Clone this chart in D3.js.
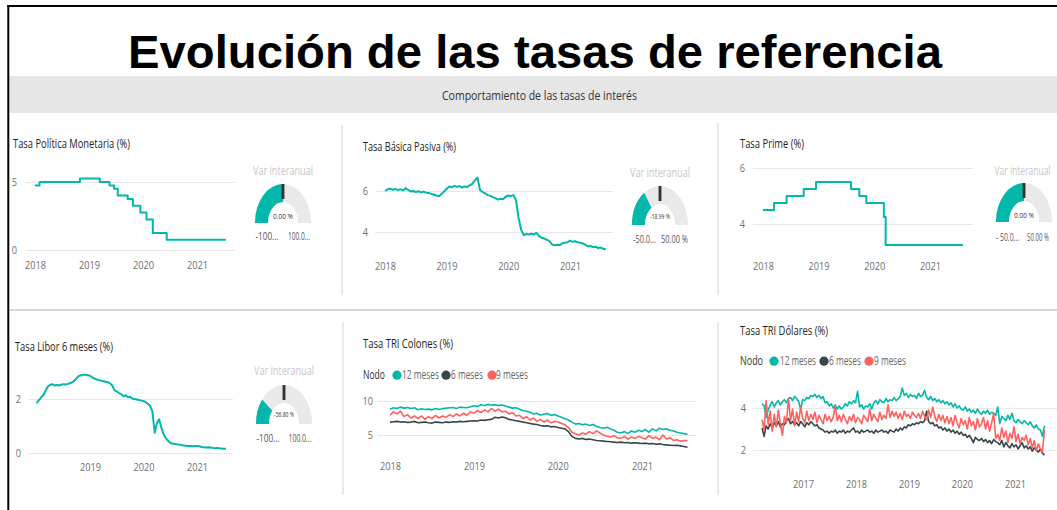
<!DOCTYPE html>
<html lang="es">
<head>
<meta charset="UTF-8">
<title>Evolución de las tasas de referencia</title>
<script src="https://d3js.org/d3.v7.min.js"></script>
<style>
  body { margin: 0; background: #fff; }
  svg { display: block; }
</style>
</head>
<body>
<svg id="chart" width="1057" height="510"></svg>
<script>
// ---- data ----
const parse = d3.timeParse("%Y-%m-%d");

// Tasa Politica Monetaria (step)
const tpmDates = ["2018-01-01","2018-02-01","2018-11-01","2019-03-15","2019-05-20","2019-06-20","2019-07-15",
  "2019-09-20","2019-10-25","2019-12-15","2020-01-25","2020-03-08","2020-06-10","2021-07-15"];
const tpmValues = [4.75, 5.0, 5.25, 5.0, 4.75, 4.5, 4.0, 3.75, 3.25, 2.75, 2.25, 1.25, 0.75, 0.75];

// Tasa Prime (step)
const primeDates = ["2018-01-01","2018-03-15","2018-06-05","2018-09-25","2018-12-15","2019-08-01","2019-09-25",
  "2019-11-10","2020-03-04","2020-03-16","2021-08-05"];
const primeValues = [4.5, 4.75, 5.0, 5.25, 5.5, 5.25, 5.0, 4.75, 4.25, 3.25, 3.25];

// Tasa Basica Pasiva, semi-monthly from 2018-01-01
const tbpStart = "2018-01-01";
const tbpValues = [
  6.00, 6.08, 6.12, 6.06, 6.10, 6.04, 6.09, 6.03, 6.14, 6.05, 5.98, 6.00, 5.95, 5.99, 5.93, 5.97, 5.92, 5.90, 5.86, 5.83, 5.78, 5.74, 5.85, 5.98,
  6.10, 6.22, 6.18, 6.25, 6.20, 6.24, 6.17, 6.22, 6.20, 6.28, 6.35, 6.52, 6.66, 6.05, 5.95, 5.88, 5.80, 5.76, 5.70, 5.65, 5.58, 5.62, 5.60, 5.72,
  5.78, 5.76, 5.80, 5.55, 4.70, 4.10, 3.85, 3.90, 3.88, 3.92, 3.88, 3.96, 3.80, 3.72, 3.68, 3.62, 3.55, 3.40, 3.35, 3.38, 3.36, 3.45, 3.48, 3.50,
  3.58, 3.52, 3.55, 3.50, 3.48, 3.44, 3.38, 3.30, 3.32, 3.26, 3.28, 3.22, 3.24, 3.18, 3.15];

// Tasa Libor 6 meses, semi-monthly from 2018-01-01
const liborStart = "2018-01-01";
const liborValues = [
  1.85, 1.95, 2.05, 2.15, 2.30, 2.45, 2.52, 2.55, 2.50, 2.52, 2.50, 2.53, 2.55, 2.54, 2.56, 2.58, 2.62, 2.68, 2.78, 2.85, 2.88, 2.90, 2.90, 2.88,
  2.86, 2.80, 2.76, 2.72, 2.70, 2.68, 2.66, 2.64, 2.62, 2.58, 2.50, 2.32, 2.28, 2.22, 2.18, 2.10, 2.14, 2.06, 2.08, 2.02, 2.00, 1.98, 1.96, 1.94,
  1.93, 1.88, 1.82, 1.74, 1.55, 0.75, 1.10, 1.25, 0.95, 0.70, 0.55, 0.45, 0.38, 0.35, 0.33, 0.32, 0.31, 0.30, 0.28, 0.27, 0.26, 0.26, 0.25, 0.26,
  0.26, 0.25, 0.22, 0.21, 0.20, 0.21, 0.20, 0.19, 0.18, 0.19, 0.18, 0.17, 0.16, 0.16];

// Tasa TRI Colones, semi-monthly from 2018-01-01
const triColStart = "2018-01-01";
const triCol12 = [
  8.8, 9.0, 8.9, 9.1, 8.95, 9.05, 8.9, 9.0, 8.7, 8.85, 8.75, 8.8, 8.7, 8.9, 8.75, 8.85, 8.95, 9.0, 9.05, 8.9, 9.1, 9.05, 9.0, 9.15,
  9.3, 9.2, 9.45, 9.35, 9.5, 9.4, 9.45, 9.35, 9.4, 9.25, 9.1, 8.95, 9.0, 8.8, 8.6, 8.5, 8.35, 8.1, 8.2, 7.95, 8.05, 8.15, 7.9, 8.0,
  7.8, 7.6, 7.4, 7.2, 6.9, 6.6, 6.7, 6.5, 6.6, 6.4, 6.55, 6.3, 6.1, 6.0, 6.15, 5.9, 5.7, 5.4, 5.3, 5.5, 5.2, 5.6, 5.4, 5.7,
  5.5, 5.8, 5.4, 5.9, 5.6, 6.0, 5.8, 5.9, 5.7, 5.6, 5.4, 5.3, 5.2, 5.1];
const triCol6 = [
  6.9, 6.95, 7.0, 6.9, 6.95, 6.85, 6.9, 7.0, 6.8, 6.85, 6.9, 6.8, 6.75, 6.9, 6.85, 6.8, 6.9, 6.85, 6.95, 6.9, 7.0, 6.95, 7.0, 7.05,
  7.1, 7.05, 7.2, 7.15, 7.25, 7.3, 7.6, 7.5, 7.65, 7.55, 7.3, 7.2, 7.1, 7.0, 6.9, 6.8, 6.7, 6.6, 6.55, 6.4, 6.3, 6.35, 6.2, 6.25,
  6.1, 6.0, 5.9, 5.5, 4.8, 4.5, 4.4, 4.5, 4.35, 4.4, 4.3, 4.2, 4.15, 4.1, 4.05, 4.0, 3.95, 3.9, 3.95, 3.85, 3.9, 3.8, 3.85, 3.8,
  3.75, 3.8, 3.7, 3.75, 3.65, 3.7, 3.6, 3.55, 3.5, 3.45, 3.5, 3.4, 3.3, 3.2];
const triCol9 = [
  7.9, 8.4, 8.1, 8.5, 7.7, 8.0, 7.5, 7.8, 7.4, 7.8, 7.3, 7.7, 7.4, 7.9, 7.5, 7.8, 7.6, 8.0, 7.7, 8.1, 7.8, 8.2, 7.9, 8.4,
  8.2, 8.6, 8.3, 8.7, 8.4, 8.9, 8.5, 8.8, 8.4, 8.5, 8.1, 8.3, 7.8, 7.9, 7.4, 7.7, 7.2, 7.5, 7.0, 7.3, 6.9, 7.2, 6.8, 7.0,
  6.9, 6.7, 6.5, 6.1, 5.4, 5.2, 5.0, 5.3, 5.1, 5.5, 5.2, 5.6, 5.3, 5.0, 4.8, 4.7, 4.9, 4.6, 4.5, 4.8, 4.4, 4.7, 4.5, 4.8,
  4.6, 4.4, 4.9, 4.5, 4.7, 4.3, 5.0, 4.4, 4.6, 4.2, 4.3, 4.1, 4.2, 4.15];

// Tasa TRI Dolares, every 14 days from 2016-03-25
const triUsdStart = "2016-03-25";
const triUsd12 = [
  4.20, 4.10, 3.55, 3.90, 4.15, 4.30, 4.05, 4.25, 4.35, 4.15, 4.30, 4.40, 4.25,
  4.45, 4.50, 4.35, 4.55, 4.45, 4.30, 3.95, 4.40, 4.35, 4.50, 4.45, 4.60, 4.55,
  4.65, 4.50, 4.60, 4.45, 4.55, 4.25, 4.30, 4.10, 4.20, 4.00, 4.15, 3.95, 4.10,
  3.95, 4.05, 4.20, 4.10, 4.30, 4.20, 4.35, 4.25, 4.80, 4.05, 4.15, 3.95, 4.10,
  4.05, 4.20, 3.95, 4.25, 4.35, 4.20, 4.40, 4.30, 4.25, 4.45, 4.30, 4.40, 4.35,
  4.50, 4.35, 4.45, 4.55, 4.95, 4.60, 4.70, 4.50, 4.65, 4.55, 4.60, 4.45, 4.70,
  4.55, 4.60, 4.85, 4.50, 4.40, 4.55, 4.35, 4.45, 4.30, 4.40, 4.25, 4.35, 4.20,
  4.30, 4.15, 4.25, 4.05, 4.20, 4.00, 4.10, 3.95, 3.90, 4.05, 3.85, 3.95, 3.80,
  3.90, 3.75, 3.95, 3.80, 3.70, 3.85, 3.75, 3.90, 3.70, 3.80, 3.75, 3.65, 4.05,
  3.25, 3.60, 3.50, 3.40, 3.65, 3.45, 3.75, 3.40, 3.30, 3.45, 3.35, 3.25, 3.40,
  3.30, 3.20, 3.35, 3.15, 3.05, 3.20, 3.00, 2.95, 2.65, 3.15];
const triUsd6 = [
  3.05, 2.65, 3.15, 3.00, 3.25, 3.05, 3.30, 3.15, 3.35, 3.10, 3.25, 3.20, 3.40,
  3.50, 3.25, 3.35, 3.20, 3.30, 3.15, 3.35, 3.25, 3.10, 3.30, 3.20, 3.35, 3.25,
  3.15, 3.20, 3.05, 3.00, 2.95, 2.85, 2.90, 2.80, 2.90, 2.85, 2.95, 2.80, 2.90,
  2.85, 2.95, 2.80, 2.90, 2.85, 2.95, 3.05, 2.85, 2.90, 2.80, 2.95, 2.85, 2.90,
  2.95, 2.85, 2.90, 2.80, 2.95, 2.85, 2.90, 2.95, 2.85, 2.90, 2.80, 2.95, 2.90,
  2.85, 3.00, 2.90, 3.05, 2.95, 3.10, 3.05, 3.20, 3.15, 3.25, 3.20, 3.30, 3.25,
  3.35, 3.30, 3.40, 3.85, 3.35, 3.25, 3.30, 3.15, 3.20, 3.05, 3.10, 2.95, 3.05,
  2.90, 3.00, 2.85, 2.95, 2.80, 2.90, 2.75, 2.85, 2.70, 2.75, 2.60, 2.70, 2.55,
  2.35, 2.60, 2.50, 2.45, 2.55, 2.40, 2.50, 2.35, 2.45, 2.30, 2.50, 2.40, 2.35,
  2.25, 2.45, 2.15, 2.35, 2.20, 2.10, 2.30, 2.15, 2.25, 2.05, 2.20, 2.35, 2.10,
  2.20, 2.05, 2.15, 1.95, 2.10, 2.00, 1.90, 2.05, 1.85, 1.75];
const triUsd9 = [
  3.45, 2.95, 4.35, 3.20, 3.85, 2.90, 3.70, 3.10, 3.90, 3.25, 2.70, 3.60, 3.30,
  4.45, 3.40, 3.95, 3.15, 3.80, 3.35, 4.05, 3.50, 3.30, 3.85, 3.40, 3.70, 3.45,
  3.80, 3.30, 3.65, 3.45, 3.25, 3.70, 3.40, 3.60, 3.35, 3.55, 4.10, 3.40, 3.65,
  3.35, 3.70, 3.45, 3.25, 3.60, 3.40, 3.70, 3.30, 3.55, 3.45, 3.25, 3.65, 3.50,
  3.35, 3.95, 3.40, 3.70, 3.50, 3.35, 3.80, 3.45, 3.65, 3.50, 4.15, 3.55, 3.85,
  3.60, 3.80, 3.50, 3.75, 3.45, 3.85, 3.60, 3.70, 3.50, 3.80, 3.65, 3.55, 3.75,
  3.50, 3.85, 3.60, 3.45, 3.90, 3.55, 4.05, 3.60, 3.35, 3.70, 3.40, 3.65, 3.30,
  3.60, 3.25, 3.55, 3.15, 3.65, 3.30, 3.05, 3.50, 3.20, 3.40, 3.00, 3.55, 3.15,
  3.35, 2.95, 3.50, 3.10, 3.25, 3.55, 3.00, 3.40, 2.90, 3.30, 3.75, 2.55, 2.75,
  2.45, 3.05, 2.60, 2.90, 2.35, 2.80, 2.55, 3.10, 2.40, 2.75, 2.30, 2.60, 2.45,
  2.70, 2.25, 2.55, 2.10, 2.45, 1.95, 2.30, 2.05, 1.90, 2.95];

const nodos = ["12 meses", "6 meses", "9 meses"];

// gauges (Var interanual)
const gaugeValues = [0, -18.99, 0, -56.8];
const gaugeMin = [-100, -50, -50, -100];
const gaugeMax = [100, 50, 50, 100];
const gaugeValueText = ["0.00 %", "-18.99 %", "0.00 %", "-56.80 %"];
const gaugeMinText = ["-100...", "-50.0...", "- 50.0...", "-100..."];
const gaugeMaxText = ["100.0...", "50.00 %", "50.00 %", "100.0..."];

// ---- drawing ----
const TEAL = "#01B8AA", DARK = "#374649", RED = "#FD625E";
const FONT = "'Open Sans', 'Noto Sans', sans-serif";
const svg = d3.select("#chart");

function txt(x, y, s, o) {
  const t = svg.append("text").attr("x", x).attr("y", y).text(s)
    .attr("font-family", o.family || FONT)
    .attr("font-size", o.size)
    .attr("font-weight", o.weight || 400)
    .attr("fill", o.color || "#252423")
    .attr("text-anchor", o.anchor || "start");
  if (o.len) t.attr("textLength", o.len).attr("lengthAdjust", "spacingAndGlyphs");
  return t;
}

function seq(start, values, stepDays) {
  const s = parse(start);
  return values.map((v, i) => ({ date: d3.timeDay.offset(s, Math.round(i * stepDays)), value: v }));
}
function pairs(dates, values) {
  return dates.map((d, i) => ({ date: parse(d), value: values[i] }));
}

// frame
svg.append("rect").attr("width", 1057).attr("height", 510).attr("fill", "#fff");
svg.append("rect").attr("x", 9.5).attr("y", 76).attr("width", 1048).attr("height", 37).attr("fill", "#e6e6e6");
svg.append("line").attr("x1", 8.3).attr("x2", 8.3).attr("y1", 5).attr("y2", 510).attr("stroke", "#000").attr("stroke-width", 2);
svg.append("line").attr("x1", 7.3).attr("x2", 1057).attr("y1", 6).attr("y2", 6).attr("stroke", "#000").attr("stroke-width", 2);

txt(535, 68, "Evolución de las tasas de referencia",
  { family: "'Liberation Sans', Arial, sans-serif", size: 47, weight: 700, color: "#000", anchor: "middle", len: 814 });
txt(539.5, 100, "Comportamiento de las tasas de interés", { size: 13, color: "#333", anchor: "middle", len: 195 });

// separators
svg.append("line").attr("x1", 10).attr("x2", 1057).attr("y1", 310).attr("y2", 310).attr("stroke", "#d6d6d6").attr("stroke-width", 2);
[[342, 125, 295], [718, 123, 295], [343, 322, 495], [718, 322, 495]].forEach(s => {
  svg.append("line").attr("x1", s[0]).attr("x2", s[0]).attr("y1", s[1]).attr("y2", s[2])
    .attr("stroke", "#e3e3e3").attr("stroke-width", 1.5);
});

function condense(sel, k) {
  sel.each(function () {
    const t = d3.select(this);
    const x = +t.attr("x") || 0;
    t.attr("x", 0).attr("transform", `translate(${x},0) scale(${k},1)`);
  });
}

function panel(p) {
  const x = d3.scaleTime().domain([new Date(p.xd[0], 0, 1), new Date(p.xd[1], 0, 1)]).range(p.xr);
  const y = d3.scaleLinear().domain(p.yd).range(p.yr);

  const ya = svg.append("g").attr("transform", `translate(${p.grid[1]},0)`)
    .call(d3.axisLeft(y).tickValues(p.yd).tickSize(p.grid[1] - p.grid[0]).tickPadding(p.yPad).tickFormat(d3.format("d")));
  ya.select(".domain").remove();
  ya.selectAll("line").attr("stroke", "#e8e8e8");
  ya.attr("font-family", FONT).attr("font-size", 11.5);
  ya.selectAll("text").attr("fill", "#6f6f6f");
  condense(ya.selectAll("text"), 0.8);

  const ticks = d3.range(p.xt[0], p.xt[1] + 1).map(yr => new Date(yr, 0, 1));
  const xa = svg.append("g").attr("transform", `translate(0,${p.xLabelY - 4.1})`)
    .call(d3.axisBottom(x).tickValues(ticks).tickSize(0).tickPadding(0).tickFormat(d3.timeFormat("%Y")));
  xa.select(".domain").remove();
  xa.attr("font-family", FONT).attr("font-size", 11.5);
  xa.selectAll("text").attr("fill", "#6f6f6f");
  condense(xa.selectAll("text"), 0.8);

  p.series.forEach(s => {
    svg.append("path").datum(s.data)
      .attr("fill", "none").attr("stroke", s.color).attr("stroke-width", p.width || 2)
      .attr("stroke-linejoin", "round")
      .attr("d", d3.line().x(d => x(d.date)).y(d => y(d.value)).curve(p.step ? d3.curveStepAfter : d3.curveLinear));
  });

  txt(p.title[1], p.title[2], p.title[0], { size: 12, color: "#252423", len: p.title[3] });

  if (p.legend) {
    const L = p.legend;
    txt(L.x, L.y, "Nodo", { size: 12, color: "#333", len: L.nodoLen });
    nodos.forEach((n, i) => {
      svg.append("circle").attr("cx", L.dots[i]).attr("cy", L.y - 3.8).attr("r", 4.6).attr("fill", [TEAL, DARK, RED][i]);
      txt(L.labels[i], L.y, n, { size: 12, color: "#666", len: L.lens[i] });
    });
  }
}

panel({ title: ["Tasa Política Monetaria (%)", 13, 148, 117], step: true,
  xd: [2018, 2021], xr: [35, 197], yd: [0, 5], yr: [250, 182], grid: [26, 235], yPad: 9, xt: [2018, 2021], xLabelY: 265,
  series: [{ data: pairs(tpmDates, tpmValues), color: TEAL }] });

panel({ title: ["Tasa Básica Pasiva (%)", 363, 151, 93],
  xd: [2018, 2021], xr: [385, 570], yd: [4, 6], yr: [232, 191], grid: [375, 613], yPad: 7, xt: [2018, 2021], xLabelY: 266,
  series: [{ data: seq(tbpStart, tbpValues, 365.25 / 24), color: TEAL }] });

panel({ title: ["Tasa Prime (%)", 740, 148, 64], step: true,
  xd: [2018, 2021], xr: [763, 930], yd: [4, 6], yr: [224, 168], grid: [753, 973], yPad: 8, xt: [2018, 2021], xLabelY: 266,
  series: [{ data: pairs(primeDates, primeValues), color: TEAL }] });

panel({ title: ["Tasa Libor 6 meses (%)", 15, 351, 98],
  xd: [2019, 2021], xr: [90, 197], yd: [0, 2], yr: [453, 399], grid: [28, 233], yPad: 7, xt: [2019, 2021], xLabelY: 467,
  series: [{ data: seq(liborStart, liborValues, 365.25 / 24), color: TEAL }] });

panel({ title: ["Tasa TRI Colones (%)", 363, 348, 90], width: 1.6,
  xd: [2018, 2021], xr: [390, 642], yd: [5, 10], yr: [435, 401], grid: [378, 697], yPad: 5, xt: [2018, 2021], xLabelY: 466,
  legend: { x: 363, y: 379, nodoLen: 22, dots: [397, 446, 492], labels: [402, 451, 496], lens: [37, 32, 32] },
  series: [
    { data: seq(triColStart, triCol12, 365.25 / 24), color: TEAL },
    { data: seq(triColStart, triCol9, 365.25 / 24), color: RED },
    { data: seq(triColStart, triCol6, 365.25 / 24), color: DARK }] });

panel({ title: ["Tasa TRI Dólares (%)", 740, 335, 88], width: 1.6,
  xd: [2017, 2021], xr: [803, 1015], yd: [2, 4], yr: [450, 408], grid: [753, 1057], yPad: 7, xt: [2017, 2021], xLabelY: 484,
  legend: { x: 740, y: 365, nodoLen: 23, dots: [774, 824, 869], labels: [780, 829, 874], lens: [36, 32, 32] },
  series: [
    { data: seq(triUsdStart, triUsd12, 14), color: TEAL },
    { data: seq(triUsdStart, triUsd6, 14), color: DARK },
    { data: seq(triUsdStart, triUsd9, 14), color: RED }] });

// gauges
const gaugePos = [
  { cx: 283, cy: 223, tx: 283, tLen: 60, title: 175, val: 219, ends: 240, minX: 267, maxX: 299, minLen: 23, maxLen: 22 },
  { cx: 660, cy: 225, tx: 660, tLen: 60, title: 176.5, val: 219, ends: 243, minX: 644.5, maxX: 674.5, minLen: 23, maxLen: 27 },
  { cx: 1024, cy: 222, tx: 1022.5, tLen: 56, title: 175, val: 218, ends: 240.5, minX: 1007.5, maxX: 1038, minLen: 23, maxLen: 22 },
  { cx: 284, cy: 424, tx: 284, tLen: 60, title: 375, val: 417, ends: 441.5, minX: 268, maxX: 300, minLen: 23, maxLen: 23 }];

const arc = d3.arc().innerRadius(21).outerRadius(39);
gaugeValues.forEach((v, i) => {
  const gp = gaugePos[i];
  const ang = d3.scaleLinear().domain([gaugeMin[i], gaugeMax[i]]).range([-Math.PI / 2, Math.PI / 2]);
  const g = svg.append("g").attr("transform", `translate(${gp.cx},${gp.cy}) scale(0.72,1)`);
  g.append("path").attr("d", arc({ startAngle: -Math.PI / 2, endAngle: Math.PI / 2 })).attr("fill", "#e9e9e9");
  g.append("path").attr("d", arc({ startAngle: -Math.PI / 2, endAngle: ang(v) })).attr("fill", TEAL);
  const a = ang(0);
  g.append("line")
    .attr("x1", 24 * Math.sin(a)).attr("y1", -24 * Math.cos(a))
    .attr("x2", 39 * Math.sin(a)).attr("y2", -39 * Math.cos(a))
    .attr("stroke", "#333").attr("stroke-width", 4);

  txt(gp.tx, gp.title, "Var interanual", { size: 12.5, color: "#c8c8c8", anchor: "middle", len: gp.tLen });
  txt(gp.cx, gp.val, gaugeValueText[i], { size: 8, color: "#333", anchor: "middle", len: 20 });
  txt(gp.minX, gp.ends, gaugeMinText[i], { size: 10, color: "#555", anchor: "middle", len: gp.minLen });
  txt(gp.maxX, gp.ends, gaugeMaxText[i], { size: 10, color: "#555", anchor: "middle", len: gp.maxLen });
});
</script>
</body>
</html>
